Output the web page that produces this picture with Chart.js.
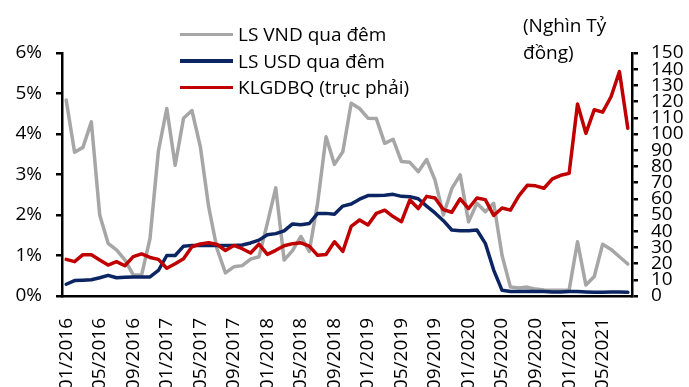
<!DOCTYPE html>
<html lang="vi">
<head>
<meta charset="utf-8">
<title>LS qua đêm và KLGDBQ</title>
<script src="https://cdn.jsdelivr.net/npm/chart.js@4.4.1/dist/chart.umd.min.js"></script>
<style>
  html, body { margin: 0; padding: 0; background: #fff; }
  #wrap { position: relative; width: 689px; height: 387px; overflow: hidden; font-family: 'Open Sans', sans-serif; color: #000; }
  #chart { position: absolute; left: 0; top: 0; }
  .leg { position: absolute; left: 180px; width: 53px; height: 3.5px; }
  .legtxt { position: absolute; left: 238px; font-size: 19px; line-height: 26px; white-space: nowrap; }
  #unit { position: absolute; left: 523px; top: 12px; font-size: 19px; line-height: 27px; }
</style>
</head>
<body>
<div id="wrap">
  <canvas id="chart" width="689" height="387"></canvas>
  <div class="leg" style="top:32.5px; background:#a6a6a6"></div>
  <div class="legtxt" style="top:21px">LS VND qua đêm</div>
  <div class="leg" style="top:59px; background:#0b2462"></div>
  <div class="legtxt" style="top:47.5px">LS USD qua đêm</div>
  <div class="leg" style="top:85.5px; background:#c00000"></div>
  <div class="legtxt" style="top:74px">KLGDBQ (trục phải)</div>
  <div id="unit">(Nghìn Tỷ<br>đồng)</div>
</div>
<script>
// tháng 01/2016 - 08/2021
const months = [];
for (let y = 2016; y <= 2021; y++) {
  for (let m = 1; m <= 12; m++) {
    if (y === 2021 && m > 8) break;
    months.push(String(m).padStart(2, "0") + "/" + y);
  }
}

// lãi suất qua đêm (%)
const vndRate = [
  4.84, 3.55, 3.67, 4.30, 2.00, 1.30, 1.14, 0.89, 0.52, 0.52, 1.42, 3.58,
  4.63, 3.23, 4.39, 4.58, 3.69, 2.20, 1.16, 0.57, 0.72, 0.75, 0.91, 0.97,
  1.80, 2.67, 0.89, 1.12, 1.47, 1.10, 2.30, 3.93, 3.25, 3.56, 4.76, 4.63,
  4.39, 4.38, 3.77, 3.87, 3.32, 3.30, 3.07, 3.37, 2.86, 2.00, 2.65, 2.99,
  1.83, 2.29, 2.08, 2.29, 1.00, 0.22, 0.20, 0.22, 0.17, 0.15, 0.14, 0.14,
  0.15, 1.34, 0.27, 0.48, 1.28, 1.15, 0.97, 0.79
];
const usdRate = [
  0.29, 0.38, 0.39, 0.40, 0.45, 0.51, 0.45, 0.46, 0.47, 0.47, 0.47, 0.63,
  1.00, 1.00, 1.23, 1.25, 1.25, 1.25, 1.25, 1.25, 1.25, 1.26, 1.31, 1.38,
  1.51, 1.54, 1.61, 1.78, 1.76, 1.79, 2.04, 2.04, 2.02, 2.22, 2.27, 2.39,
  2.48, 2.48, 2.49, 2.51, 2.46, 2.45, 2.40, 2.22, 2.05, 1.86, 1.63, 1.61,
  1.61, 1.63, 1.30, 0.64, 0.14, 0.11, 0.11, 0.12, 0.11, 0.11, 0.10, 0.10,
  0.11, 0.11, 0.10, 0.09, 0.09, 0.10, 0.10, 0.09
];
// khối lượng giao dịch bình quân (nghìn tỷ đồng, trục phải)
const klgdbq = [
  22.6, 21.2, 25.5, 25.5, 22.2, 19.1, 21.2, 18.7, 24.3, 26.0, 23.8, 22.6,
  17.1, 19.9, 23.0, 30.4, 32.1, 32.9, 31.8, 28.1, 31.2, 29.2, 26.5, 32.0,
  25.7, 28.2, 31.0, 32.3, 32.8, 30.8, 25.1, 25.6, 33.5, 27.5, 43.0, 46.9,
  43.8, 51.0, 53.0, 49.0, 45.9, 59.3, 54.0, 61.5, 60.5, 53.3, 51.7, 60.0,
  54.0, 60.5, 59.5, 49.7, 54.3, 53.0, 61.8, 68.3, 68.0, 66.5, 72.3, 74.5,
  75.7, 118.5, 100.4, 115.0, 113.5, 123.0, 138.5, 103.5
];

const leftTicks = [0, 1, 2, 3, 4, 5, 6];
const rightTicks = [0, 10, 20, 30, 40, 50, 60, 70, 80, 90, 100, 110, 120, 130, 140, 150];

Chart.defaults.font.family = "'Open Sans', sans-serif";
Chart.defaults.font.size = 19;
Chart.defaults.color = "#000";

const axisLine = { color: "#000", width: 2.5 };
const tickGrid = { drawOnChartArea: false, drawTicks: true, tickLength: 6, color: "#000", lineWidth: 2.5 };

new Chart(document.getElementById("chart"), {
  type: "line",
  data: {
    labels: months,
    datasets: [
      { label: "LS VND qua đêm", data: vndRate, yAxisID: "y", borderColor: "#a6a6a6", order: 3 },
      { label: "LS USD qua đêm", data: usdRate, yAxisID: "y", borderColor: "#0b2462", order: 2 },
      { label: "KLGDBQ (trục phải)", data: klgdbq, yAxisID: "y1", borderColor: "#c00000", order: 1 }
    ]
  },
  options: {
    responsive: false,
    animation: false,
    devicePixelRatio: 1,
    layout: { padding: { top: 53, left: 0, right: 0, bottom: 0 } },
    elements: {
      line: { borderWidth: 3.5, tension: 0, borderJoinStyle: "round", borderCapStyle: "round" },
      point: { radius: 0 }
    },
    plugins: { legend: { display: false }, tooltip: { enabled: false } },
    scales: {
      x: {
        offset: true,
        grid: { display: false },
        border: axisLine,
        ticks: {
          autoSkip: false,
          minRotation: 90,
          maxRotation: 90,
          padding: 14,
          callback: (v, i) => (i % 4 === 0 ? months[i] : "")
        },
        afterFit: s => { s.height = 91; }
      },
      y: {
        position: "left",
        min: 0,
        max: 6,
        grid: tickGrid,
        border: axisLine,
        afterBuildTicks: s => { s.ticks = leftTicks.map(v => ({ value: v })); },
        ticks: { autoSkip: false, padding: 14, callback: v => v + "%" },
        afterFit: s => { s.width = 62; }
      },
      y1: {
        position: "right",
        min: 0,
        max: 150,
        grid: tickGrid,
        border: axisLine,
        afterBuildTicks: s => { s.ticks = rightTicks.map(v => ({ value: v })); },
        ticks: { autoSkip: false, padding: 13 },
        afterFit: s => { s.width = 57; }
      }
    }
  }
});
</script>
</body>
</html>
